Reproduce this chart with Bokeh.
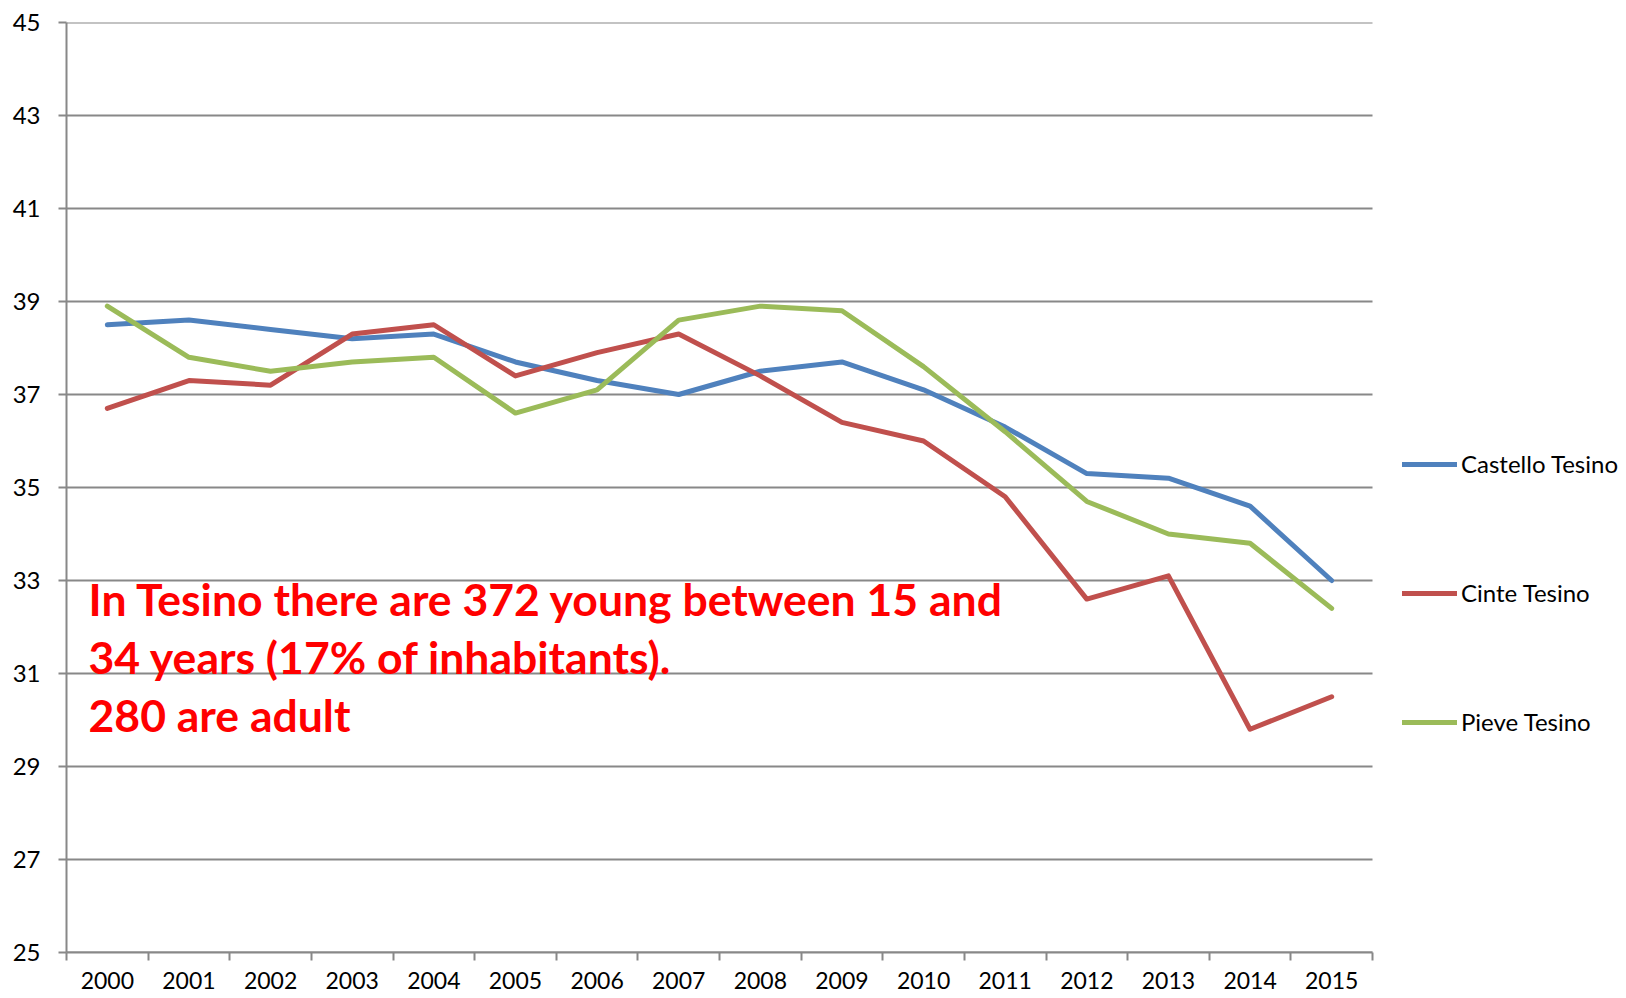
from bokeh.plotting import figure
from bokeh.models import (Range1d, FixedTicker, Legend, LegendItem, Label,
                          NumeralTickFormatter)
from bokeh.embed import file_html
from bokeh.resources import INLINE

years = list(range(2000, 2016))
castello = [38.5, 38.6, 38.4, 38.2, 38.3, 37.7, 37.3, 37.0, 37.5, 37.7, 37.1, 36.3, 35.3, 35.2, 34.6, 33.0]
cinte = [36.7, 37.3, 37.2, 38.3, 38.5, 37.4, 37.9, 38.3, 37.4, 36.4, 36.0, 34.8, 32.6, 33.1, 29.8, 30.5]
pieve = [38.9, 37.8, 37.5, 37.7, 37.8, 36.6, 37.1, 38.6, 38.9, 38.8, 37.6, 36.2, 34.7, 34.0, 33.8, 32.4]
series_names = ["Castello Tesino", "Cinte Tesino", "Pieve Tesino"]
colors = ["#4F81BD", "#C0504D", "#9BBB59"]
y_ticks = list(range(25, 46, 2))
note_lines = ["In Tesino there are 372 young between 15 and",
              "34 years (17% of inhabitants).",
              "280 are adult"]

FONT = "Lato"
GRAY = "#888888"

W, H = 1620, 998
LEFT, TOP, BOTTOM = 66, 22, 46
PLOT_RIGHT_PX = 1372  # where the category axis ends
x0, x1 = years[0] - 0.5, years[-1] + 0.5
units_per_px = (x1 - x0) / (PLOT_RIGHT_PX - LEFT)
x_end = x0 + (W - LEFT) * units_per_px  # room for the legend inside the frame

p = figure(width=W, height=H, output_backend="svg", toolbar_location=None,
           x_range=Range1d(x0, x_end), y_range=Range1d(25, 45),
           min_border_left=LEFT, min_border_right=0, min_border_top=TOP,
           min_border_bottom=BOTTOM)
p.outline_line_color = None
p.background_fill_color = "white"
p.border_fill_color = "white"

# horizontal gridlines limited to the category extent
p.segment(x0=[x0] * len(y_ticks), x1=[x1] * len(y_ticks), y0=y_ticks, y1=y_ticks,
          line_color=GRAY, line_width=2)

renderers = []
for vals, c in zip([castello, cinte, pieve], colors):
    r = p.line(years, vals, line_color=c, line_width=5,
               line_join="round", line_cap="round")
    renderers.append(r)

# x axis: labels at centers, tick marks at category boundaries
xa = p.xaxis[0]
xa.bounds = (x0, x1)
xa.ticker = FixedTicker(ticks=years,
                        minor_ticks=[y - 0.5 for y in years] + [x1])
xa.formatter = NumeralTickFormatter(format="0")
xa.major_tick_line_color = None
xa.major_tick_out = 8
xa.major_tick_in = 0
xa.minor_tick_out = 8
xa.minor_tick_in = 0
xa.minor_tick_line_color = GRAY
xa.minor_tick_line_width = 2
xa.axis_line_color = GRAY
xa.axis_line_width = 2
xa.major_label_standoff = 11
xa.major_label_text_font = FONT
xa.major_label_text_font_size = "23px"
xa.major_label_text_color = "black"

ya = p.yaxis[0]
ya.ticker = FixedTicker(ticks=y_ticks, minor_ticks=[])
ya.major_tick_out = 8
ya.major_tick_in = 0
ya.major_tick_line_color = GRAY
ya.major_tick_line_width = 2
ya.axis_line_color = GRAY
ya.axis_line_width = 2
ya.major_label_standoff = 18
ya.major_label_text_font = FONT
ya.major_label_text_font_size = "24px"
ya.major_label_text_color = "black"

p.xgrid.grid_line_color = None
p.ygrid.grid_line_color = None

legend = Legend(items=[LegendItem(label=n, renderers=[r]) for n, r in zip(series_names, renderers)],
                location=(1402 - LEFT, 216), orientation="vertical",
                glyph_width=55, glyph_height=20, label_height=20,
                label_standoff=4, spacing=100, padding=0, margin=0,
                border_line_color=None, background_fill_alpha=0,
                label_text_font=FONT, label_text_font_size="24px",
                label_text_color="black")
p.add_layout(legend, "center")

for i, line in enumerate(note_lines):
    p.add_layout(Label(x=1999.77, y=32.62 - i * 1.25, text=line,
                       text_font=FONT, text_font_style="bold",
                       text_font_size="44.5px", text_color="#FF0000",
                       text_baseline="middle", text_align="left"))

open("out.html", "w").write(file_html(p, INLINE))
